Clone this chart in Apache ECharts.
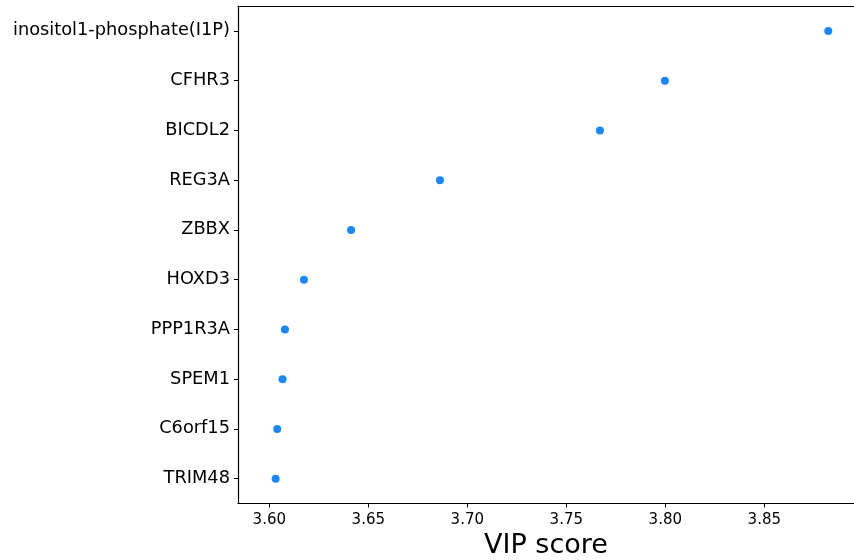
<!DOCTYPE html>
<html>
<head>
<meta charset="utf-8">
<script src="https://cdn.jsdelivr.net/npm/echarts@6/dist/echarts.min.js"></script>
<style>
html,body{margin:0;padding:0;background:#fff;}
#chart{width:854px;height:560px;}
</style>
</head>
<body>
<div id="chart"></div>
<script>
// Categories from top to bottom
const categories = ['inositol1-phosphate(I1P)', 'CFHR3', 'BICDL2', 'REG3A', 'ZBBX', 'HOXD3', 'PPP1R3A', 'SPEM1', 'C6orf15', 'TRIM48'];
// VIP scores (same order)
const vipScores = [3.8823, 3.7998, 3.7670, 3.6862, 3.6413, 3.6175, 3.6079, 3.6067, 3.6040, 3.6032];
// x tick labels
const xTicks = [3.60, 3.65, 3.70, 3.75, 3.80, 3.85];
const xRange = [3.5842, 3.8953];

const FONT = 'DejaVu Sans';
const chart = echarts.init(document.getElementById('chart'), null, {renderer: 'canvas'});
chart.setOption({
  backgroundColor: '#fff',
  animation: false,
  grid: {
    left: 238, top: 6, right: 0, bottom: 56.5,
    show: false,
    containLabel: false,
    outerBoundsMode: 'none'
  },
  xAxis: [{
    type: 'value',
    position: 'bottom',
    min: xRange[0], max: xRange[1],
    name: 'VIP score',
    nameLocation: 'middle',
    nameGap: 17,
    nameTextStyle: {fontFamily: FONT, fontSize: 27, color: '#000'},
    axisLine: {show: true, lineStyle: {color: '#000', width: 1.2}},
    axisTick: {show: true, length: 4, lineStyle: {color: '#000', width: 1}, customValues: xTicks},
    axisLabel: {show: true, margin: 9, fontFamily: FONT, fontSize: 15, color: '#000',
      customValues: xTicks, formatter: v => v.toFixed(2)},
    splitLine: {show: false}
  }, {
    type: 'value',
    position: 'top',
    min: xRange[0], max: xRange[1],
    axisLine: {show: true, onZero: false, lineStyle: {color: '#000', width: 1.2}},
    axisTick: {show: false},
    axisLabel: {show: false},
    splitLine: {show: false}
  }],
  yAxis: {
    type: 'category',
    data: categories,
    inverse: true,
    boundaryGap: true,
    axisLine: {show: true, lineStyle: {color: '#000', width: 1.2}},
    axisTick: {show: true, alignWithLabel: true, length: 4, lineStyle: {color: '#000', width: 1}},
    axisLabel: {show: true, margin: 8, fontFamily: FONT, fontSize: 17.8, color: '#000', interval: 0},
    splitLine: {show: false}
  },
  series: [{
    type: 'scatter',
    xAxisIndex: 0,
    data: vipScores.map((v, i) => [v, categories[i]]),
    symbol: 'circle',
    symbolSize: 8,
    itemStyle: {color: '#1a86ff', opacity: 1}
  }]
});
</script>
</body>
</html>
